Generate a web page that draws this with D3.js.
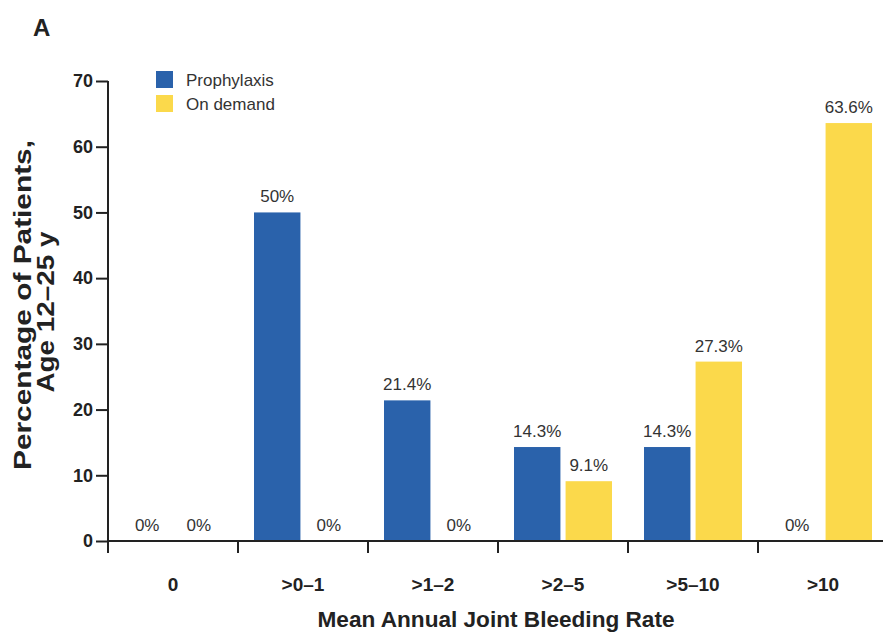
<!DOCTYPE html>
<html>
<head>
<meta charset="utf-8">
<script src="https://cdn.jsdelivr.net/npm/d3@7"></script>
<style>
  body { margin: 0; background: #fff; }
  text { font-family: "Liberation Sans", Arial, sans-serif; }
</style>
</head>
<body>
<div id="chart"></div>
<script>
var categories = ["0", ">0\u20131", ">1\u20132", ">2\u20135", ">5\u201310", ">10"];
var prophylaxis = [0, 50, 21.4, 14.3, 14.3, 0];
var onDemand = [0, 0, 0, 9.1, 27.3, 63.6];
var seriesNames = ["Prophylaxis", "On demand"];
var yTicks = [0, 10, 20, 30, 40, 50, 60, 70];

var colors = d3.scaleOrdinal()
    .domain(seriesNames)
    .range(["#2a62ab", "#fbd94b"]);

var svg = d3.select("#chart").append("svg")
    .attr("width", 883)
    .attr("height", 636);

var x = d3.scaleBand().domain(categories).range([108, 888]);
var sub = d3.scaleBand().domain(seriesNames)
    .range([16, x.bandwidth() - 16])
    .paddingInner(0.1);
var y = d3.scaleLinear().domain([0, 70]).range([541, 81]);

// rows for the bars
var rows = [];
categories.forEach(function(c, i){
    rows.push({cat: c, series: "Prophylaxis", value: prophylaxis[i]});
    rows.push({cat: c, series: "On demand", value: onDemand[i]});
});

svg.selectAll("rect.bar")
    .data(rows)
    .enter()
    .append("rect")
    .attr("class", "bar")
    .attr("x", function(d){ return x(d.cat) + sub(d.series); })
    .attr("width", sub.bandwidth())
    .attr("y", function(d){ return y(d.value); })
    .attr("height", function(d){ return y(0) - y(d.value); })
    .attr("fill", function(d){ return colors(d.series); });

svg.selectAll("text.val")
    .data(rows)
    .enter()
    .append("text")
    .attr("class", "val")
    .attr("x", function(d){ return x(d.cat) + sub(d.series) + sub.bandwidth() / 2; })
    .attr("y", function(d){ return y(d.value) - 10; })
    .attr("text-anchor", "middle")
    .attr("font-size", 17)
    .attr("fill", "#333")
    .text(function(d){ return d.value + "%"; });

// y axis
var yAxis = svg.append("g")
    .attr("transform", "translate(108,0)")
    .call(d3.axisLeft(y).tickValues(yTicks).tickSize(12).tickPadding(3));
yAxis.select(".domain").remove();
yAxis.selectAll("line").attr("stroke", "#222").attr("stroke-width", 2);
yAxis.selectAll("text")
    .attr("font-family", "Liberation Sans, Arial, sans-serif")
    .attr("font-size", 18)
    .attr("font-weight", "bold")
    .attr("fill", "#222");
svg.append("line")
    .attr("x1", 108).attr("x2", 108)
    .attr("y1", y(70)).attr("y2", y(0) + 12)
    .attr("stroke", "#222").attr("stroke-width", 2);

// x axis
svg.append("line")
    .attr("x1", 108).attr("x2", 883)
    .attr("y1", y(0)).attr("y2", y(0))
    .attr("stroke", "#222").attr("stroke-width", 2);
svg.selectAll("line.xtick")
    .data(categories.slice(1))
    .enter()
    .append("line")
    .attr("class", "xtick")
    .attr("x1", function(d){ return x(d); })
    .attr("x2", function(d){ return x(d); })
    .attr("y1", y(0))
    .attr("y2", y(0) + 12)
    .attr("stroke", "#222").attr("stroke-width", 2);
svg.selectAll("text.cat")
    .data(categories)
    .enter()
    .append("text")
    .attr("class", "cat")
    .attr("x", function(d){ return x(d) + x.bandwidth() / 2; })
    .attr("y", 591)
    .attr("text-anchor", "middle")
    .attr("font-size", 19)
    .attr("font-weight", "bold")
    .attr("fill", "#222")
    .text(function(d){ return d; });

// titles
svg.append("text")
    .attr("x", 496).attr("y", 627)
    .attr("text-anchor", "middle")
    .attr("font-size", 22)
    .attr("font-weight", "bold")
    .attr("fill", "#222")
    .attr("textLength", 357)
    .attr("lengthAdjust", "spacingAndGlyphs")
    .text("Mean Annual Joint Bleeding Rate");

var yTitle = svg.append("text")
    .attr("transform", "translate(0,305) rotate(-90)")
    .attr("text-anchor", "middle")
    .attr("font-size", 23)
    .attr("font-weight", "bold")
    .attr("fill", "#222");
yTitle.append("tspan").attr("x", 0).attr("y", 31)
    .attr("textLength", 330).attr("lengthAdjust", "spacingAndGlyphs")
    .text("Percentage of Patients,");
yTitle.append("tspan").attr("x", -7).attr("y", 54)
    .attr("textLength", 161).attr("lengthAdjust", "spacingAndGlyphs")
    .text("Age 12\u201325 y");

svg.append("text")
    .attr("x", 33).attr("y", 36)
    .attr("font-size", 24)
    .attr("font-weight", "bold")
    .attr("fill", "#222")
    .text("A");

// legend
var legend = svg.selectAll("g.legend")
    .data(seriesNames)
    .enter()
    .append("g")
    .attr("class", "legend")
    .attr("transform", function(d, i){ return "translate(156," + (71 + i * 24) + ")"; });
legend.append("rect")
    .attr("width", 17).attr("height", 17)
    .attr("fill", function(d){ return colors(d); });
legend.append("text")
    .attr("x", 30).attr("y", 15)
    .attr("font-size", 17)
    .attr("fill", "#333")
    .text(function(d){ return d; });
</script>
</body>
</html>
